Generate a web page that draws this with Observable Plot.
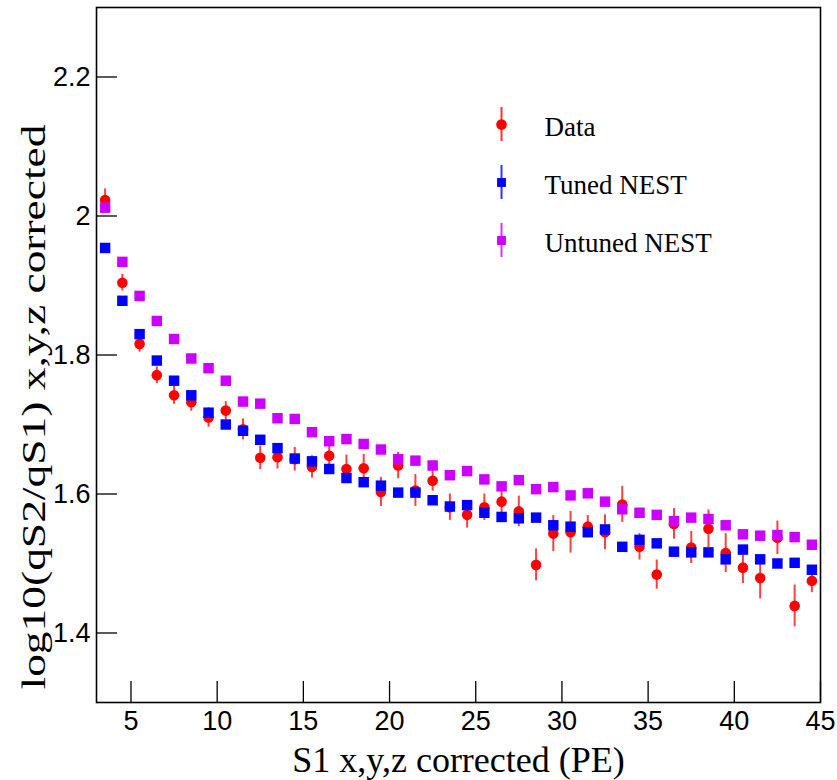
<!DOCTYPE html>
<html>
<head>
<meta charset="utf-8">
<script src="https://cdn.jsdelivr.net/npm/d3@7"></script>
<script src="https://cdn.jsdelivr.net/npm/@observablehq/plot@0.6"></script>
<style>
  html, body { margin: 0; padding: 0; background: #fff; }
  #chart svg { display: block; background: #fff; }
</style>
</head>
<body>
<div id="chart"></div>
<script>
// ---------- data ----------
const s1 = [3.5,4.5,5.5,6.5,7.5,8.5,9.5,10.5,11.5,12.5,13.5,14.5,15.5,16.5,17.5,18.5,19.5,20.5,21.5,22.5,23.5,24.5,25.5,26.5,27.5,28.5,29.5,30.5,31.5,32.5,33.5,34.5,35.5,36.5,37.5,38.5,39.5,40.5,41.5,42.5,43.5,44.5];
const dataVals = [2.023,1.904,1.816,1.771,1.742,1.732,1.710,1.720,1.693,1.652,1.653,1.650,1.639,1.655,1.636,1.637,1.603,1.641,1.605,1.619,1.581,1.570,1.581,1.589,1.575,1.498,1.543,1.545,1.553,1.545,1.585,1.524,1.484,1.557,1.523,1.550,1.515,1.494,1.479,1.537,1.439,1.475];
const dataErrs = [0.016,0.012,0.012,0.012,0.013,0.013,0.014,0.013,0.015,0.017,0.017,0.017,0.016,0.015,0.020,0.020,0.021,0.019,0.023,0.015,0.019,0.019,0.019,0.016,0.022,0.023,0.026,0.030,0.016,0.025,0.026,0.019,0.021,0.022,0.023,0.027,0.028,0.023,0.030,0.024,0.030,0.017];
const tunedVals = [1.954,1.878,1.830,1.792,1.763,1.742,1.717,1.700,1.691,1.678,1.666,1.651,1.647,1.636,1.623,1.617,1.612,1.602,1.602,1.591,1.582,1.584,1.573,1.567,1.565,1.566,1.555,1.553,1.545,1.549,1.524,1.534,1.529,1.517,1.516,1.516,1.506,1.520,1.506,1.500,1.501,1.491];
const untunedVals = [2.012,1.934,1.885,1.849,1.823,1.795,1.781,1.763,1.733,1.730,1.709,1.708,1.689,1.676,1.679,1.672,1.664,1.650,1.648,1.641,1.627,1.633,1.621,1.611,1.620,1.607,1.610,1.598,1.601,1.589,1.578,1.573,1.570,1.561,1.566,1.564,1.555,1.542,1.540,1.541,1.538,1.527];
const seriesNames = ["Data", "Tuned NEST", "Untuned NEST"];
const xTicks = [5,10,15,20,25,30,35,40,45];
const yTicks = [1.4,1.6,1.8,2.0,2.2];
const yTickLabels = ["1.4","1.6","1.8","2","2.2"];
const xTitle = "S1 x,y,z corrected (PE)";
const yTitle = "log10(qS2/qS1) x,y,z corrected";

// ---------- layout ----------
const W = 837, H = 780;
const mL = 96, mR = 17, mT = 7, mB = 78;
const xDomain = [3, 45], yDomain = [1.3, 2.3];
const frameW = W - mL - mR, frameH = H - mT - mB;
const ux = (xDomain[1]-xDomain[0]) / frameW;   // data units per px (x)
const uy = (yDomain[1]-yDomain[0]) / frameH;   // data units per px (y)
const pxToX = p => xDomain[0] + (p - mL) * ux;
const pxToY = p => yDomain[1] - (p - mT) * uy;
const tickLen = 21;

const RED = "#ff0000", BLUE = "#0000ff", PURPLE = "#cc00ff";
const colors = [RED, BLUE, PURPLE];
const symbols = ["circle", "square", "square"];
const serif = "'Liberation Serif', 'Times New Roman', serif";
const sans = "'Liberation Sans', Arial, Helvetica, sans-serif";

const dataRows = s1.map((x, i) => ({x, y: dataVals[i], e: dataErrs[i]}));
const tunedRows = s1.map((x, i) => ({x, y: tunedVals[i]}));
const untunedRows = s1.map((x, i) => ({x, y: untunedVals[i]}));

const legendRows = seriesNames.map((name, i) => ({
  name, color: colors[i], symbol: symbols[i],
  x: pxToX(501), tx: pxToX(544), y: pxToY(124 + 58 * i)
}));
const legendCircles = legendRows.filter(d => d.symbol === "circle");
const legendSquares = legendRows.filter(d => d.symbol === "square");

const chart = Plot.plot({
  width: W, height: H,
  marginLeft: mL, marginRight: mR, marginTop: mT, marginBottom: mB,
  x: {domain: xDomain},
  y: {domain: yDomain},
  style: {background: "#fff", color: "#000"},
  marks: [
    // axes labels
    Plot.axisX({ticks: xTicks, tickSize: 0, tickPadding: 8, fontSize: 27, fontFamily: sans, label: null, tickFormat: d => String(d)}),
    Plot.axisY({ticks: yTicks, tickSize: 0, tickPadding: 6, fontSize: 27, fontFamily: sans, label: null,
      tickFormat: d => yTickLabels[yTicks.findIndex(t => Math.abs(t - d) < 1e-9)]}),
    // inward ticks
    Plot.ruleX(xTicks, {x: d => d, y1: yDomain[0], y2: yDomain[0] + tickLen * uy, stroke: "#000", strokeWidth: 1.3}),
    Plot.ruleY(yTicks, {y: d => d, x1: xDomain[0], x2: xDomain[0] + tickLen * ux, stroke: "#000", strokeWidth: 1.3}),
    // data error bars
    Plot.ruleX(dataRows, {x: "x", y1: d => d.y - d.e, y2: d => d.y + d.e, stroke: RED, strokeOpacity: 0.75, strokeWidth: 2}),
    Plot.dot(dataRows, {x: "x", y: "y", r: 5.3, fill: RED, symbol: "circle"}),
    Plot.dot(tunedRows, {x: "x", y: "y", r: 5.9, fill: BLUE, symbol: "square"}),
    Plot.dot(untunedRows, {x: "x", y: "y", r: 5.9, fill: PURPLE, symbol: "square"}),
    // legend
    Plot.ruleX(legendRows, {x: "x", y1: d => d.y - 17 * uy, y2: d => d.y + 17 * uy, stroke: d => d.color, strokeWidth: 2, strokeOpacity: 0.8}),
    Plot.dot(legendCircles, {x: "x", y: "y", r: 5.3, fill: d => d.color, symbol: "circle"}),
    Plot.dot(legendSquares, {x: "x", y: "y", r: 5.0, fill: d => d.color, symbol: "square"}),
    Plot.text(legendRows, {x: "tx", y: "y", dy: 3, text: "name", textAnchor: "start", lineAnchor: "middle", fontSize: 27, fontFamily: serif, fill: "#000"}),
    // titles
    Plot.text([xTitle], {frameAnchor: "bottom", dy: 58, textAnchor: "middle", lineAnchor: "middle", fontSize: 36, fontFamily: serif, fill: "#000"}),
    Plot.text([yTitle], {frameAnchor: "left", dx: -62, dy: 52, rotate: -90, textAnchor: "middle", lineAnchor: "middle", fontSize: 34, fontFamily: serif, fill: "#000"}),
    Plot.frame({stroke: "#000", strokeWidth: 1.6})
  ]
});
// the reference's y title is stretched along its length
d3.select(chart).selectAll("text").filter(function() { return this.textContent === yTitle; })
  .attr("textLength", 565).attr("lengthAdjust", "spacingAndGlyphs");
document.getElementById("chart").appendChild(chart);
</script>
</body>
</html>
